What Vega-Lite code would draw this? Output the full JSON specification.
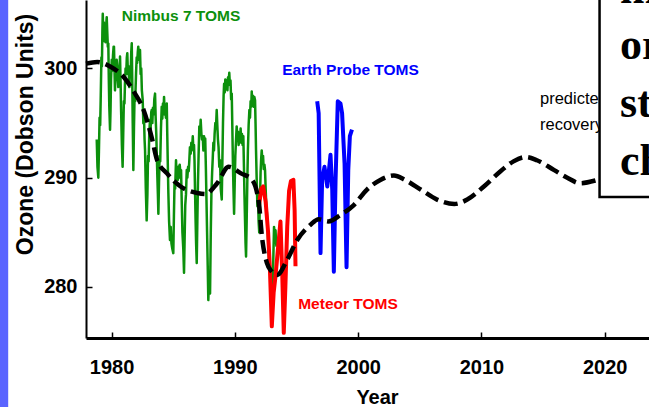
{
  "$schema": "https://vega.github.io/schema/vega-lite/v6.json",
  "width": 563,
  "height": 338,
  "autosize": {"type": "none"},
  "padding": {"left": 86, "top": 0, "right": 0, "bottom": 69},
  "background": "white",
  "config": {"view": {"stroke": null}, "axis": {"grid": false}},
  "datasets": {
    "nimbus": [
      {"year":1978.80,"du":293.5},{"year":1978.86,"du":291.0},{"year":1978.93,"du":290.0},{"year":1978.98,"du":292.5},{"year":1979.03,"du":295.5},{"year":1979.08,"du":294.8},{"year":1979.12,"du":297.1},{"year":1979.18,"du":301.0},{"year":1979.22,"du":300.2},{"year":1979.26,"du":303.5},{"year":1979.29,"du":305.0},{"year":1979.34,"du":303.0},{"year":1979.38,"du":304.2},{"year":1979.43,"du":302.5},{"year":1979.47,"du":303.5},{"year":1979.52,"du":302.4},{"year":1979.57,"du":304.0},{"year":1979.61,"du":304.7},{"year":1979.66,"du":303.2},{"year":1979.70,"du":302.0},{"year":1979.74,"du":302.3},{"year":1979.78,"du":299.0},{"year":1979.82,"du":296.5},{"year":1979.88,"du":294.4},{"year":1979.92,"du":296.2},{"year":1979.96,"du":299.0},
      {"year":1980.02,"du":300.8},{"year":1980.07,"du":299.8},{"year":1980.12,"du":301.2},{"year":1980.17,"du":302.0},{"year":1980.20,"du":302.0},{"year":1980.24,"du":300.0},{"year":1980.28,"du":298.0},{"year":1980.33,"du":299.5},{"year":1980.38,"du":299.0},{"year":1980.42,"du":300.8},{"year":1980.47,"du":300.2},{"year":1980.51,"du":299.0},{"year":1980.55,"du":298.3},{"year":1980.60,"du":300.0},{"year":1980.65,"du":299.6},{"year":1980.69,"du":301.1},{"year":1980.74,"du":298.5},{"year":1980.78,"du":296.0},{"year":1980.84,"du":293.0},{"year":1980.90,"du":291.0},{"year":1980.95,"du":294.0},
      {"year":1981.00,"du":297.0},{"year":1981.05,"du":296.8},{"year":1981.09,"du":298.6},{"year":1981.14,"du":300.0},{"year":1981.19,"du":299.5},{"year":1981.24,"du":301.0},{"year":1981.28,"du":301.4},{"year":1981.33,"du":299.5},{"year":1981.38,"du":300.2},{"year":1981.42,"du":299.0},{"year":1981.45,"du":298.3},{"year":1981.50,"du":300.0},{"year":1981.55,"du":299.4},{"year":1981.60,"du":301.5},{"year":1981.64,"du":302.3},{"year":1981.68,"du":299.0},{"year":1981.72,"du":295.0},{"year":1981.77,"du":290.7},{"year":1981.82,"du":294.5},{"year":1981.87,"du":297.5},{"year":1981.92,"du":297.0},{"year":1981.99,"du":299.6},
      {"year":1982.04,"du":301.0},{"year":1982.08,"du":300.5},{"year":1982.13,"du":301.5},{"year":1982.17,"du":302.0},{"year":1982.22,"du":300.8},{"year":1982.27,"du":301.2},{"year":1982.31,"du":301.7},{"year":1982.36,"du":299.5},{"year":1982.41,"du":300.0},{"year":1982.46,"du":298.0},{"year":1982.53,"du":297.1},{"year":1982.58,"du":295.0},{"year":1982.63,"du":295.8},{"year":1982.68,"du":293.5},{"year":1982.72,"du":292.5},{"year":1982.78,"du":289.0},{"year":1982.85,"du":286.1},{"year":1982.91,"du":288.5},{"year":1982.96,"du":292.0},
      {"year":1983.01,"du":291.5},{"year":1983.06,"du":294.0},{"year":1983.12,"du":295.3},{"year":1983.17,"du":294.5},{"year":1983.22,"du":296.0},{"year":1983.26,"du":296.2},{"year":1983.31,"du":295.0},{"year":1983.36,"du":296.4},{"year":1983.42,"du":295.8},{"year":1983.47,"du":297.2},{"year":1983.53,"du":297.7},{"year":1983.58,"du":295.5},{"year":1983.63,"du":294.0},{"year":1983.67,"du":292.2},{"year":1983.72,"du":290.0},{"year":1983.76,"du":288.5},{"year":1983.80,"du":286.7},{"year":1983.85,"du":289.5},{"year":1983.90,"du":292.0},{"year":1983.95,"du":291.5},
      {"year":1984.01,"du":294.5},{"year":1984.07,"du":296.5},{"year":1984.12,"du":295.4},{"year":1984.17,"du":296.8},{"year":1984.22,"du":296.2},{"year":1984.26,"du":297.4},{"year":1984.31,"du":295.8},{"year":1984.36,"du":296.5},{"year":1984.41,"du":295.5},{"year":1984.48,"du":296.8},{"year":1984.52,"du":294.0},{"year":1984.56,"du":291.5},{"year":1984.61,"du":288.6},{"year":1984.67,"du":286.0},{"year":1984.74,"du":284.3},{"year":1984.80,"du":285.5},{"year":1984.86,"du":284.0},{"year":1984.93,"du":283.5},
      {"year":1985.01,"du":283.1},{"year":1985.06,"du":286.5},{"year":1985.11,"du":289.5},{"year":1985.16,"du":289.0},{"year":1985.23,"du":291.6},{"year":1985.28,"du":290.0},{"year":1985.33,"du":290.8},{"year":1985.38,"du":289.8},{"year":1985.42,"du":291.0},{"year":1985.48,"du":290.0},{"year":1985.53,"du":291.2},{"year":1985.58,"du":290.5},{"year":1985.64,"du":290.7},{"year":1985.70,"du":287.5},{"year":1985.75,"du":285.0},{"year":1985.82,"du":283.5},{"year":1985.88,"du":281.3},{"year":1985.93,"du":284.5},{"year":1985.98,"du":287.5},
      {"year":1986.04,"du":288.5},{"year":1986.10,"du":290.7},{"year":1986.15,"du":290.0},{"year":1986.21,"du":291.0},{"year":1986.26,"du":290.6},{"year":1986.31,"du":291.6},{"year":1986.36,"du":292.8},{"year":1986.42,"du":292.2},{"year":1986.47,"du":293.2},{"year":1986.53,"du":292.6},{"year":1986.59,"du":293.8},{"year":1986.64,"du":292.5},{"year":1986.69,"du":293.0},{"year":1986.73,"du":291.6},{"year":1986.77,"du":289.0},{"year":1986.82,"du":286.0},{"year":1986.86,"du":284.0},{"year":1986.91,"du":282.2},{"year":1986.96,"du":286.0},
      {"year":1987.01,"du":289.5},{"year":1987.06,"du":292.0},{"year":1987.12,"du":294.7},{"year":1987.18,"du":294.0},{"year":1987.23,"du":295.3},{"year":1987.29,"du":294.0},{"year":1987.34,"du":293.5},{"year":1987.40,"du":293.8},{"year":1987.45,"du":292.5},{"year":1987.50,"du":293.8},{"year":1987.55,"du":293.2},{"year":1987.60,"du":293.6},{"year":1987.65,"du":291.0},{"year":1987.70,"du":288.0},{"year":1987.75,"du":285.0},{"year":1987.80,"du":282.0},{"year":1987.85,"du":278.8},{"year":1987.92,"du":281.0},{"year":1987.99,"du":279.4},
      {"year":1988.05,"du":285.0},{"year":1988.10,"du":288.5},{"year":1988.16,"du":290.5},{"year":1988.21,"du":291.8},{"year":1988.26,"du":293.2},{"year":1988.31,"du":292.5},{"year":1988.36,"du":294.0},{"year":1988.42,"du":295.0},{"year":1988.47,"du":294.5},{"year":1988.53,"du":296.2},{"year":1988.58,"du":294.8},{"year":1988.63,"du":293.5},{"year":1988.68,"du":292.8},{"year":1988.74,"du":291.0},{"year":1988.80,"du":291.6},{"year":1988.86,"du":289.0},{"year":1988.94,"du":288.0},{"year":1988.99,"du":291.5},
      {"year":1989.04,"du":295.0},{"year":1989.09,"du":297.5},{"year":1989.13,"du":298.6},{"year":1989.18,"du":297.8},{"year":1989.23,"du":299.0},{"year":1989.29,"du":298.2},{"year":1989.34,"du":298.9},{"year":1989.40,"du":298.0},{"year":1989.45,"du":299.2},{"year":1989.50,"du":298.8},{"year":1989.55,"du":299.6},{"year":1989.60,"du":298.5},{"year":1989.65,"du":298.9},{"year":1989.70,"du":297.2},{"year":1989.75,"du":297.7},{"year":1989.80,"du":294.5},{"year":1989.85,"du":291.0},{"year":1989.89,"du":289.0},{"year":1989.94,"du":286.7},{"year":1989.99,"du":289.5},
      {"year":1990.04,"du":292.0},{"year":1990.10,"du":293.5},{"year":1990.15,"du":294.7},{"year":1990.20,"du":293.8},{"year":1990.26,"du":294.2},{"year":1990.31,"du":293.0},{"year":1990.36,"du":294.0},{"year":1990.42,"du":293.5},{"year":1990.47,"du":294.5},{"year":1990.52,"du":293.2},{"year":1990.58,"du":294.0},{"year":1990.63,"du":293.0},{"year":1990.69,"du":293.8},{"year":1990.74,"du":291.0},{"year":1990.78,"du":288.5},{"year":1990.83,"du":286.0},{"year":1990.87,"du":284.0},{"year":1990.91,"du":282.8},{"year":1990.96,"du":286.0},
      {"year":1991.01,"du":289.5},{"year":1991.06,"du":292.5},{"year":1991.12,"du":294.8},{"year":1991.18,"du":296.2},{"year":1991.23,"du":295.5},{"year":1991.28,"du":297.0},{"year":1991.33,"du":296.5},{"year":1991.37,"du":297.9},{"year":1991.42,"du":296.8},{"year":1991.47,"du":297.5},{"year":1991.53,"du":296.5},{"year":1991.58,"du":297.4},{"year":1991.64,"du":297.1},{"year":1991.68,"du":295.0},{"year":1991.72,"du":292.5},{"year":1991.77,"du":290.0},{"year":1991.83,"du":287.4},{"year":1991.88,"du":288.5},{"year":1991.93,"du":286.0},{"year":1991.98,"du":285.0},
      {"year":1992.04,"du":288.0},{"year":1992.09,"du":290.5},{"year":1992.14,"du":291.8},{"year":1992.18,"du":292.5},{"year":1992.24,"du":291.5},{"year":1992.29,"du":292.0},{"year":1992.34,"du":290.8},{"year":1992.40,"du":291.2},{"year":1992.45,"du":290.7},{"year":1992.50,"du":289.0},{"year":1992.55,"du":287.5},{"year":1992.60,"du":286.8},{"year":1992.66,"du":285.5},{"year":1992.72,"du":283.5},{"year":1992.78,"du":282.5},{"year":1992.84,"du":282.0},{"year":1992.90,"du":280.5},{"year":1992.96,"du":278.5},
      {"year":1993.03,"du":277.6},{"year":1993.08,"du":280.5},{"year":1993.13,"du":283.0},{"year":1993.18,"du":285.5},{"year":1993.24,"du":284.8},{"year":1993.30,"du":285.2},{"year":1993.35,"du":284.0},{"year":1993.38,"du":283.7}
    ],
    "toms": [
      {"series":"Meteor","year":1991.95,"du":287.4},{"series":"Meteor","year":1992.15,"du":289.0},{"series":"Meteor","year":1992.3,"du":289.2},{"series":"Meteor","year":1992.5,"du":287.8},{"series":"Meteor","year":1992.7,"du":285.0},{"series":"Meteor","year":1992.85,"du":281.5},{"series":"Meteor","year":1993.0,"du":276.4},{"series":"Meteor","year":1993.15,"du":279.5},{"series":"Meteor","year":1993.3,"du":281.0},{"series":"Meteor","year":1993.5,"du":283.5},{"series":"Meteor","year":1993.7,"du":286.0},{"series":"Meteor","year":1993.85,"du":281.0},{"series":"Meteor","year":1993.97,"du":275.8},{"series":"Meteor","year":1994.1,"du":280.0},{"series":"Meteor","year":1994.25,"du":285.5},{"series":"Meteor","year":1994.4,"du":288.8},{"series":"Meteor","year":1994.55,"du":289.7},{"series":"Meteor","year":1994.75,"du":289.8},{"series":"Meteor","year":1994.85,"du":287.0},{"series":"Meteor","year":1994.92,"du":281.9},
      {"series":"Earth Probe","year":1996.68,"du":297.0},{"series":"Earth Probe","year":1996.8,"du":295.9},{"series":"Earth Probe","year":1996.95,"du":283.1},{"series":"Earth Probe","year":1997.08,"du":289.8},{"series":"Earth Probe","year":1997.27,"du":291.0},{"series":"Earth Probe","year":1997.5,"du":289.2},{"series":"Earth Probe","year":1997.76,"du":292.1},{"series":"Earth Probe","year":1997.9,"du":288.9},{"series":"Earth Probe","year":1998.03,"du":281.4},{"series":"Earth Probe","year":1998.17,"du":289.8},{"series":"Earth Probe","year":1998.35,"du":297.0},{"series":"Earth Probe","year":1998.57,"du":296.8},{"series":"Earth Probe","year":1998.7,"du":295.9},{"series":"Earth Probe","year":1998.9,"du":291.3},{"series":"Earth Probe","year":1999.06,"du":281.8},{"series":"Earth Probe","year":1999.2,"du":290.7},{"series":"Earth Probe","year":1999.33,"du":293.8},{"series":"Earth Probe","year":1999.5,"du":294.4}
    ],
    "model": [
      {"year":1977.93,"du":300.45},{"year":1978.84,"du":300.6},{"year":1979.92,"du":300.16},{"year":1980.97,"du":299.25},{"year":1981.8,"du":297.9},{"year":1982.6,"du":296.2},{"year":1983.3,"du":293.5},{"year":1983.7,"du":291.6},{"year":1984.5,"du":290.4},{"year":1985.6,"du":289.2},{"year":1986.95,"du":288.6},{"year":1987.6,"du":288.5},{"year":1988.57,"du":289.5},{"year":1989.5,"du":291.0},{"year":1990.5,"du":290.4},{"year":1991.4,"du":289.8},{"year":1991.95,"du":287.7},{"year":1992.2,"du":284.6},{"year":1992.6,"du":282.2},{"year":1993.0,"du":281.4},{"year":1993.44,"du":281.1},{"year":1994.25,"du":282.5},{"year":1995.06,"du":284.3},{"year":1996.14,"du":285.7},{"year":1996.8,"du":286.2},{"year":1997.6,"du":286.0},{"year":1998.57,"du":286.6},{"year":1999.65,"du":287.5},{"year":2000.7,"du":288.9},{"year":2001.8,"du":289.8},{"year":2002.9,"du":290.2},{"year":2003.8,"du":289.8},{"year":2005.1,"du":288.9},{"year":2006.4,"du":288.0},{"year":2007.8,"du":287.6},{"year":2008.85,"du":288.0},{"year":2010.2,"du":289.2},{"year":2011.55,"du":290.6},{"year":2012.6,"du":291.5},{"year":2013.6,"du":291.9},{"year":2014.5,"du":291.6},{"year":2015.9,"du":290.7},{"year":2016.96,"du":290.0},{"year":2018.0,"du":289.5},{"year":2019.4,"du":289.8},{"year":2020.5,"du":290.2}
    ],
    "labels": [
      {"label":"Nimbus 7 TOMS","series":"Nimbus 7","year":1985.64,"du":304.78},
      {"label":"Earth Probe TOMS","series":"Earth Probe","year":1999.38,"du":299.86},
      {"label":"Meteor TOMS","series":"Meteor","year":1999.18,"du":278.4}
    ],
    "notes": [
      {"label":"predicted","year":2014.75,"du":296.75},
      {"label":"recovery","year":2014.75,"du":294.37}
    ],
    "boxtext": [
      {"label":"m","year":2021.24,"du":306.0},
      {"label":"or","year":2021.24,"du":300.87},
      {"label":"st","year":2021.24,"du":295.56},
      {"label":"ch","year":2021.24,"du":290.25}
    ]
  },
  "layer": [
    {
      "data": {"values": [{"part": "slide edge"}]},
      "mark": {"type": "rect", "color": "#5a64ff"},
      "encoding": {
        "x": {"datum": 1970.9, "type": "quantitative"},
        "x2": {"datum": 1971.62},
        "y": {"datum": 262, "type": "quantitative"},
        "y2": {"datum": 312}
      }
    },
    {
      "data": {"name": "nimbus"},
      "mark": {"type": "line", "color": "#0c900c", "strokeWidth": 2.5, "strokeJoin": "round"},
      "encoding": {
        "x": {
          "field": "year", "type": "quantitative",
          "scale": {"domain": [1977.93, 2023.59], "nice": false, "zero": false},
          "axis": {
            "title": "Year", "values": [1980, 1990, 2000, 2010, 2020], "format": "d",
            "domainColor": "black", "domainWidth": 3,
            "tickColor": "black", "tickSize": -6, "tickWidth": 1.5,
            "labelFont": "Liberation Sans, Arial, sans-serif", "labelFontSize": 20, "labelFontWeight": "bold", "labelColor": "black",
            "labelPadding": 25, "labelFlush": false,
            "titleFont": "Liberation Sans, Arial, sans-serif", "titleFontSize": 20, "titleFontWeight": "bold", "titleColor": "black",
            "titleX": 291, "titleY": 59, "titleBaseline": "middle", "titleAlign": "center"
          }
        },
        "y": {
          "field": "du", "type": "quantitative",
          "scale": {"domain": [275.33, 306.27], "nice": false, "zero": false},
          "axis": {
            "title": "Ozone (Dobson Units)", "values": [280, 290, 300],
            "domainColor": "black", "domainWidth": 2,
            "tickColor": "black", "tickSize": -6, "tickWidth": 1.5,
            "labelFont": "Liberation Sans, Arial, sans-serif", "labelFontSize": 20, "labelFontWeight": "bold", "labelColor": "black",
            "labelPadding": 15,
            "titleFont": "Liberation Sans, Arial, sans-serif", "titleFontSize": 23, "titleFontWeight": "bold", "titleColor": "black",
            "titleX": -61, "titleY": 134, "titleBaseline": "middle", "titleAlign": "center", "titleAngle": 270
          }
        }
      }
    },
    {
      "data": {"name": "toms"},
      "mark": {"type": "line", "strokeWidth": 4, "strokeJoin": "round"},
      "encoding": {
        "x": {"field": "year", "type": "quantitative"},
        "y": {"field": "du", "type": "quantitative"},
        "detail": {"field": "series"},
        "color": {"field": "series", "type": "nominal", "scale": {"domain": ["Nimbus 7", "Meteor", "Earth Probe"], "range": ["#0c900c", "#ff0000", "#0000ff"]}, "legend": null}
      }
    },
    {
      "data": {"name": "model"},
      "mark": {"type": "line", "color": "black", "strokeWidth": 4.5, "strokeDash": [14, 6], "interpolate": "monotone"},
      "encoding": {
        "x": {"field": "year", "type": "quantitative"},
        "y": {"field": "du", "type": "quantitative"}
      }
    },
    {
      "data": {"name": "labels"},
      "mark": {"type": "text", "font": "Liberation Sans, Arial, sans-serif", "fontSize": 15.5, "fontWeight": "bold", "align": "center", "baseline": "middle"},
      "encoding": {
        "x": {"field": "year", "type": "quantitative"},
        "y": {"field": "du", "type": "quantitative"},
        "text": {"field": "label"},
        "color": {"field": "series", "type": "nominal", "legend": null}
      }
    },
    {
      "data": {"name": "notes"},
      "mark": {"type": "text", "font": "Liberation Sans, Arial, sans-serif", "fontSize": 16.5, "align": "left", "baseline": "alphabetic", "color": "black"},
      "encoding": {
        "x": {"field": "year", "type": "quantitative"},
        "y": {"field": "du", "type": "quantitative"},
        "text": {"field": "label"}
      }
    },
    {
      "data": {"values": [{"part": "text box"}]},
      "mark": {"type": "rect", "fill": "white", "stroke": "black", "strokeWidth": 2.5},
      "encoding": {
        "x": {"datum": 2019.58, "type": "quantitative"},
        "x2": {"datum": 2040},
        "y": {"datum": 288.24, "type": "quantitative"},
        "y2": {"datum": 315}
      }
    },
    {
      "data": {"name": "boxtext"},
      "mark": {"type": "text", "font": "Liberation Serif, serif", "fontSize": 44, "fontWeight": "bold", "align": "left", "baseline": "alphabetic", "color": "black"},
      "encoding": {
        "x": {"field": "year", "type": "quantitative"},
        "y": {"field": "du", "type": "quantitative"},
        "text": {"field": "label"}
      }
    }
  ]
}
